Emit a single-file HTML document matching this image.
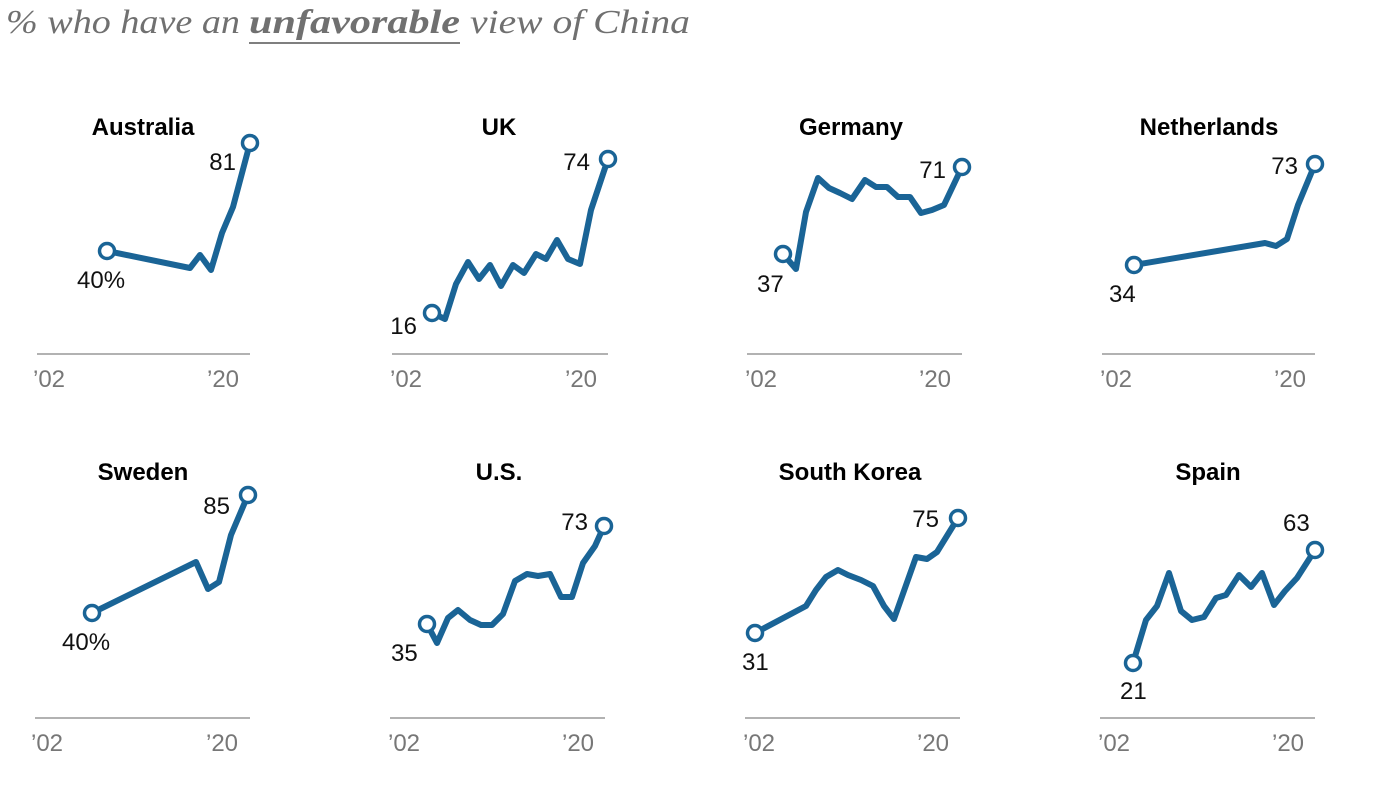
<!DOCTYPE html>
<html><head><meta charset="utf-8"><style>
html,body{margin:0;padding:0;background:#fff;}
svg{display:block;}
.t{font-family:"Liberation Sans",sans-serif;font-weight:bold;font-size:24px;fill:#000;text-anchor:middle;}
.n{font-family:"Liberation Sans",sans-serif;font-size:24px;fill:#111;}
.ax{font-family:"Liberation Sans",sans-serif;font-size:24px;fill:#777;}
.l{fill:none;stroke:#1a6496;stroke-width:6;stroke-linejoin:round;stroke-linecap:round;}
.c{fill:#fff;stroke:#1a6496;stroke-width:3.5;}
.b{stroke:#999;stroke-width:1.5;}
.h{font-family:"Liberation Serif",serif;font-style:italic;font-size:34px;fill:#707070;}
</style></head><body>
<svg width="1400" height="790" viewBox="0 0 1400 790">
<text class="h" x="6" y="33" textLength="234" lengthAdjust="spacingAndGlyphs">% who have an</text>
<text class="h" x="249" y="33" font-weight="bold" textLength="211" lengthAdjust="spacingAndGlyphs">unfavorable</text>
<text class="h" x="470" y="33" textLength="220" lengthAdjust="spacingAndGlyphs">view of China</text>
<line x1="249" y1="43" x2="460" y2="43" stroke="#555" stroke-width="1.5"/>

<g>
<text class="t" x="143" y="135">Australia</text>
<line class="b" x1="37" y1="354" x2="250" y2="354"/>
<text class="ax" x="33" y="387">’02</text><text class="ax" x="207" y="387">’20</text>
<polyline class="l" points="107,251 190,268 200,255 211,270 222,233 233,207 250,143"/>
<circle class="c" cx="107" cy="251" r="7.5"/><circle class="c" cx="250" cy="143" r="7.5"/>
<text class="n" x="77" y="288">40%</text><text class="n" x="236" y="170" text-anchor="end">81</text>
</g>
<g>
<text class="t" x="499" y="135">UK</text>
<line class="b" x1="392" y1="354" x2="608" y2="354"/>
<text class="ax" x="390" y="387">’02</text><text class="ax" x="565" y="387">’20</text>
<polyline class="l" points="432,313 445,319 456,284 468,262 479,279 490,265 501,286 513,265 524,273 536,254 546,259 557,240 568,259 580,264 591,210 608,159"/>
<circle class="c" cx="432" cy="313" r="7.5"/><circle class="c" cx="608" cy="159" r="7.5"/>
<text class="n" x="417" y="334" text-anchor="end">16</text><text class="n" x="590" y="170" text-anchor="end">74</text>
</g>
<g>
<text class="t" x="851" y="135">Germany</text>
<line class="b" x1="747" y1="354" x2="962" y2="354"/>
<text class="ax" x="745" y="387">’02</text><text class="ax" x="919" y="387">’20</text>
<polyline class="l" points="783,254 796,269 806,212 818,178 829,188 840,193 852,199 865,180 876,187 887,187 898,197 910,197 921,213 932,210 944,205 962,167"/>
<circle class="c" cx="783" cy="254" r="7.5"/><circle class="c" cx="962" cy="167" r="7.5"/>
<text class="n" x="757" y="292">37</text><text class="n" x="946" y="178" text-anchor="end">71</text>
</g>
<g>
<text class="t" x="1209" y="135">Netherlands</text>
<line class="b" x1="1102" y1="354" x2="1315" y2="354"/>
<text class="ax" x="1100" y="387">’02</text><text class="ax" x="1274" y="387">’20</text>
<polyline class="l" points="1134,265 1265,243 1276,246 1287,239 1298,205 1315,164"/>
<circle class="c" cx="1134" cy="265" r="7.5"/><circle class="c" cx="1315" cy="164" r="7.5"/>
<text class="n" x="1109" y="302">34</text><text class="n" x="1298" y="174" text-anchor="end">73</text>
</g>

<g>
<text class="t" x="143" y="480">Sweden</text>
<line class="b" x1="35" y1="718" x2="250" y2="718"/>
<text class="ax" x="31" y="751">’02</text><text class="ax" x="206" y="751">’20</text>
<polyline class="l" points="92,613 196,562 208,589 219,582 231,535 248,495"/>
<circle class="c" cx="92" cy="613" r="7.5"/><circle class="c" cx="248" cy="495" r="7.5"/>
<text class="n" x="62" y="650">40%</text><text class="n" x="230" y="514" text-anchor="end">85</text>
</g>
<g>
<text class="t" x="499" y="480">U.S.</text>
<line class="b" x1="390" y1="718" x2="605" y2="718"/>
<text class="ax" x="388" y="751">’02</text><text class="ax" x="562" y="751">’20</text>
<polyline class="l" points="427,624 437,643 448,618 458,610 470,620 481,625 492,625 503,614 515,581 527,574 538,576 550,574 561,597 572,597 583,563 595,546 604,526"/>
<circle class="c" cx="427" cy="624" r="7.5"/><circle class="c" cx="604" cy="526" r="7.5"/>
<text class="n" x="391" y="661">35</text><text class="n" x="588" y="530" text-anchor="end">73</text>
</g>
<g>
<text class="t" x="850" y="480">South Korea</text>
<line class="b" x1="745" y1="718" x2="960" y2="718"/>
<text class="ax" x="743" y="751">’02</text><text class="ax" x="917" y="751">’20</text>
<polyline class="l" points="755,633 806,606 816,590 826,577 838,570 848,575 861,580 873,586 884,606 894,619 905,588 916,557 927,559 937,552 958,518"/>
<circle class="c" cx="755" cy="633" r="7.5"/><circle class="c" cx="958" cy="518" r="7.5"/>
<text class="n" x="742" y="670">31</text><text class="n" x="939" y="527" text-anchor="end">75</text>
</g>
<g>
<text class="t" x="1208" y="480">Spain</text>
<line class="b" x1="1100" y1="718" x2="1315" y2="718"/>
<text class="ax" x="1098" y="751">’02</text><text class="ax" x="1272" y="751">’20</text>
<polyline class="l" points="1133,663 1146,620 1157,606 1169,573 1181,611 1192,620 1204,617 1216,598 1226,595 1239,575 1251,587 1262,573 1274,605 1285,591 1297,578 1315,550"/>
<circle class="c" cx="1133" cy="663" r="7.5"/><circle class="c" cx="1315" cy="550" r="7.5"/>
<text class="n" x="1120" y="699">21</text><text class="n" x="1283" y="531">63</text>
</g>
</svg>
</body></html>
